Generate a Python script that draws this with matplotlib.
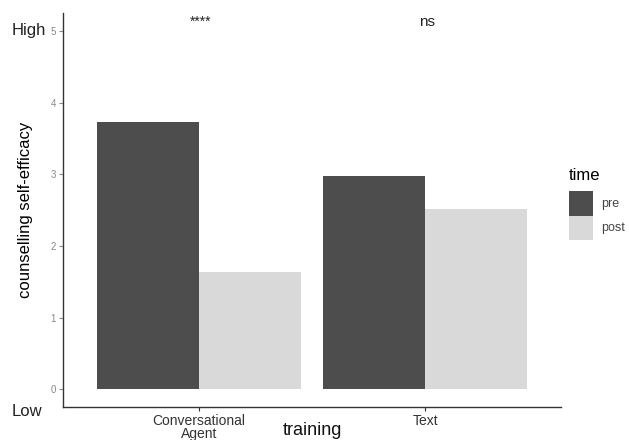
import numpy as np
import matplotlib.pyplot as plt
from matplotlib.patches import Patch

plt.rcParams['font.family'] = ['Liberation Sans', 'DejaVu Sans']

training = ['Conversational\nAgent', 'Text']
pre = [3.73, 2.97]
post = [1.64, 2.52]
signif = ['****', 'ns']

dark = '#4d4d4d'
light = '#d9d9d9'

fig = plt.figure(figsize=(6.29, 4.40), dpi=100)
ax = fig.add_axes([0.100, 0.075, 0.792, 0.895])

x = np.arange(1, len(training) + 1)
w = 0.45
ax.bar(x - w / 2, pre, width=w, color=dark)
ax.bar(x + w / 2, post, width=w, color=light)

for xi, s in zip(x, signif):
    fs = 10 if s.startswith('*') else 11
    ax.text(xi + 0.01, 5.13, s, ha='center', va='center', fontsize=fs, color='#222222')

ax.set_xlim(0.4, 2.6)
ax.set_ylim(-0.25, 5.25)
ax.set_xticks(x)
ax.set_xticklabels(training, fontsize=10, color='#333333', linespacing=0.95)
ax.set_yticks([0, 1, 2, 3, 4, 5])
ax.tick_params(axis='y', labelsize=7, colors='#888888', length=3, pad=2)
ax.tick_params(axis='x', colors='#333333', length=3, pad=2)
for sp in ['top', 'right']:
    ax.spines[sp].set_visible(False)
for sp in ['left', 'bottom']:
    ax.spines[sp].set_color('#333333')
    ax.spines[sp].set_linewidth(1.0)

ax.set_ylabel('counselling self-efficacy', fontsize=12, labelpad=4)
ax.yaxis.set_label_coords(-0.06, 0.5)
fig.text(312 / 629, 1 / 440, 'training', fontsize=13, ha='center', va='bottom', color='#111111')

fig.text(12 / 629, 1 - 31 / 440, 'High', fontsize=12, va='center', ha='left', color='#222222')
fig.text(12 / 629, 1 - 411 / 440, 'Low', fontsize=12, va='center', ha='left', color='#222222')

handles = [Patch(facecolor=dark, label='pre'), Patch(facecolor=light, label='post')]
leg = fig.legend(handles=handles, title='time', loc='upper left',
                 bbox_to_anchor=(564 / 629, 1 - 163 / 440), frameon=False,
                 fontsize=9, title_fontsize=12, handlelength=1.9, handleheight=2.6,
                 handletextpad=0.7, labelspacing=0.0, borderaxespad=0)
leg._legend_box.align = 'left'
leg._legend_box.sep = 6
for t in leg.get_texts():
    t.set_color('#444444')

fig.savefig('out.png', dpi=100)
